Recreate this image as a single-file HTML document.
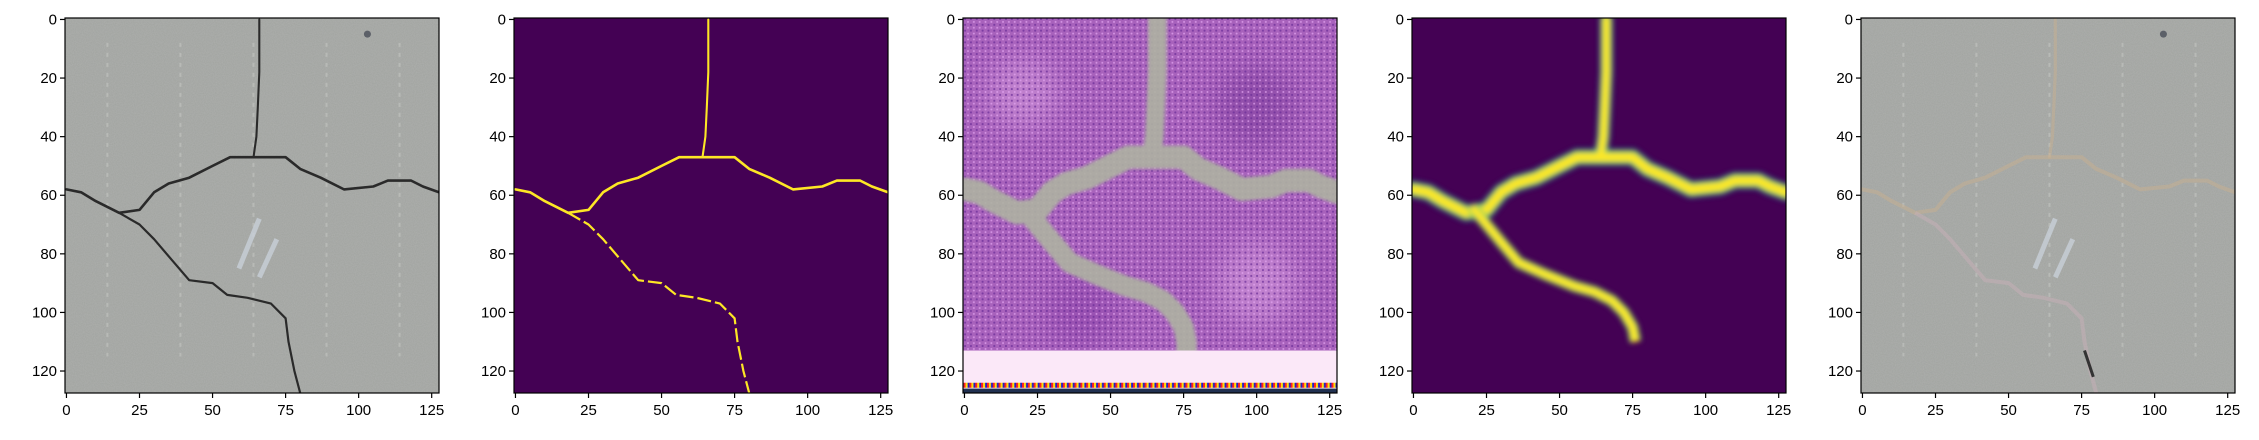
<!DOCTYPE html>
<html><head><meta charset="utf-8">
<style>
html,body{margin:0;padding:0;background:#fff;}
svg{display:block;font-family:"Liberation Sans","DejaVu Sans",sans-serif;}
</style></head>
<body>
<svg id="fig" width="2259" height="440" viewBox="0 0 2259 440" xmlns="http://www.w3.org/2000/svg">
<defs>
  <filter id="blur4" x="-10%" y="-10%" width="120%" height="120%"><feGaussianBlur stdDeviation="2.6"/></filter>
  <filter id="blur1"><feGaussianBlur stdDeviation="1.5"/></filter>
  <filter id="blurBig" x="-20%" y="-20%" width="140%" height="140%"><feGaussianBlur stdDeviation="14"/></filter>
  <filter id="noise" x="0" y="0" width="100%" height="100%">
    <feTurbulence type="fractalNoise" baseFrequency="0.9" numOctaves="2" seed="3"/>
    <feColorMatrix type="matrix" values="0 0 0 0 0.5  0 0 0 0 0.5  0 0 0 0 0.5  0 0 0 0.5 0"/>
  </filter>
  <pattern id="dots" width="5.84" height="5.84" patternUnits="userSpaceOnUse">
    <circle cx="1.5" cy="1.5" r="1.1" fill="#6a2c98" opacity="0.7"/>
    <circle cx="4.4" cy="4.4" r="1" fill="#e8a8f4" opacity="0.7"/>
  </pattern>
  <pattern id="stripes" width="5.84" height="6" patternUnits="userSpaceOnUse">
    <rect x="0" y="0" width="2" height="6" fill="#ff2020"/>
    <rect x="2" y="0" width="2" height="6" fill="#ffe000"/>
    <rect x="4" y="0" width="1.84" height="6" fill="#2020c0"/>
  </pattern>
</defs>
<g id="panels"></g>
</svg>
<script>
// ---- data (image coordinates, pixel units of the 128x128 images) ----
const imgSize = 128;
const xTicks = [0, 25, 50, 75, 100, 125];
const yTicks = [0, 20, 40, 60, 80, 100, 120];
const mainCrackX = [0, 5, 10, 18, 25, 30, 35, 42, 50, 56, 65, 75, 80, 87, 95, 105, 110, 118, 122, 127.5];
const mainCrackY = [58, 59, 62, 66, 65, 59, 56, 54, 50, 47, 47, 47, 51, 54, 58, 57, 55, 55, 57, 59];
const vertCrackX = [66, 66, 65.5, 65, 64];
const vertCrackY = [0, 18, 30, 40, 47];
const branchCrackX = [18, 25, 30, 36, 42, 50, 55, 62, 70, 75, 76, 78, 80];
const branchCrackY = [66, 70, 75, 82, 89, 90, 94, 95, 97, 102, 110, 120, 127.5];
const predBranchX = [20, 25, 30, 36, 45, 55, 62, 68, 72, 75, 76];
const predBranchY = [64, 70, 76, 83, 87, 91, 93, 96, 100, 105, 110];
const panelLefts = [65, 514, 963, 1412, 1861];

// ---- layout ----
const plotTop = 18, W = 374, H = 375;
const svgNS = "http://www.w3.org/2000/svg";
const root = document.getElementById('panels');
function el(tag, attrs, parent){const e=document.createElementNS(svgNS,tag);for(const k in attrs)e.setAttribute(k,attrs[k]);(parent||root).appendChild(e);return e;}
function sx(x0,v){return x0 + (v+0.5)*W/imgSize;}
function sy(v){return plotTop + (v+0.5)*H/imgSize;}
function pts(x0,xs,ys){return xs.map((v,i)=>sx(x0,v).toFixed(1)+','+sy(ys[i]).toFixed(1)).join(' ');}
const u = W/imgSize;

function crack(g,x0,color,width,extra){
  const a = el('polyline',Object.assign({points:pts(x0,mainCrackX,mainCrackY),fill:'none',stroke:color,'stroke-width':width,'stroke-linejoin':'round','stroke-linecap':'round'},extra||{}),g);
  
  
  const b = el('polyline',Object.assign({points:pts(x0,vertCrackX,vertCrackY),fill:'none',stroke:color,'stroke-width':width*0.8,'stroke-linecap':'round'},extra||{}),g);
  
  
}

panelLefts.forEach((x0,pi)=>{
  const g = el('g',{});
  
  
  const clipId='clip'+pi;
  const cp=el('clipPath',{id:clipId},g); el('rect',{x:x0,y:plotTop,width:W,height:H},cp);
  const img = el('g',{'clip-path':'url(#'+clipId+')'},g);
  
  
  if(pi===0||pi===4){
    el('rect',{x:x0,y:plotTop,width:W,height:H,fill:'#a0a39f'},img);
    el('rect',{x:x0,y:plotTop,width:W,height:H,filter:'url(#noise)'},img);
    [14,39,64,89,114].forEach(c=>el('line',{x1:sx(x0,c),y1:sy(8),x2:sx(x0,c),y2:sy(115),stroke:'#c4c6c2','stroke-width':2,'stroke-dasharray':'4 6',opacity:0.6},img));
    el('polyline',{points:pts(x0,[59,66],[85,68]),stroke:'#c8d0d8','stroke-width':5,fill:'none',opacity:0.8},img);
    el('polyline',{points:pts(x0,[66,72],[88,75]),stroke:'#c8d0d8','stroke-width':5,fill:'none',opacity:0.8},img);
    el('circle',{cx:sx(x0,103),cy:sy(5),r:3.5,fill:'#5c6068'},img);
    if(pi===0){
      crack(img,x0,'#2a2a2a',2.6);
      const b=el('polyline',{points:pts(x0,branchCrackX,branchCrackY),fill:'none',stroke:'#2a2a2a','stroke-width':2.2,'stroke-linejoin':'round'},img);
      
      
    } else {
      crack(img,x0,'#c8b090',4,{opacity:0.5});
      const b=el('polyline',{points:pts(x0,branchCrackX,branchCrackY),fill:'none',stroke:'#c8b0b8','stroke-width':4,opacity:0.5},img);
      
      
      el('polyline',{points:pts(x0,[76,79],[113,122]),stroke:'#333','stroke-width':3,fill:'none'},img);
    }
  } else if(pi===1){
    el('rect',{x:x0,y:plotTop,width:W,height:H,fill:'#440154'},img);
    crack(img,x0,'#fde725',2.6);
    const b=el('polyline',{points:pts(x0,branchCrackX,branchCrackY),fill:'none',stroke:'#fde725','stroke-width':2.2,'stroke-dasharray':'14 4','stroke-linejoin':'round'},img);
    
    
  } else if(pi===2){
    el('rect',{x:x0,y:plotTop,width:W,height:H,fill:'#a862bc'},img);
    const mott=el('g',{filter:'url(#blurBig)',opacity:0.5},img);
    el('circle',{cx:sx(x0,20),cy:sy(25),r:35,fill:'#d8a0e0'},mott);
    el('circle',{cx:sx(x0,100),cy:sy(30),r:40,fill:'#7a3a9a'},mott);
    el('circle',{cx:sx(x0,40),cy:sy(100),r:35,fill:'#8a40a8'},mott);
    el('circle',{cx:sx(x0,100),cy:sy(90),r:40,fill:'#d8a0e0'},mott);
    el('rect',{x:x0,y:plotTop,width:W,height:H,fill:'url(#dots)'},img);
    const gg=el('g',{filter:'url(#blur1)',opacity:0.9},img);
    crack(gg,x0,'#aeb2a2',8*u);
    const b=el('polyline',{points:pts(x0,predBranchX.concat([76,77]),predBranchY.concat([115,118])),fill:'none',stroke:'#aeb2a2','stroke-width':7*u,'stroke-linejoin':'round'},gg);
    
    
    el('rect',{x:x0,y:sy(113),width:W,height:sy(127.5)-sy(113),fill:'#fbe8f8'},img);
    el('rect',{x:x0,y:sy(124),width:W,height:5,fill:'url(#stripes)'},img);
    el('rect',{x:x0,y:sy(126),width:W,height:sy(127.5)-sy(126),fill:'#203050'},img);
  } else {
    el('rect',{x:x0,y:plotTop,width:W,height:H,fill:'#440154'},img);
    const gg=el('g',{filter:'url(#blur4)'},img);
    crack(gg,x0,'#21918c',6*u,{opacity:0.7});
    crack(gg,x0,'#5ec962',4.5*u);
    crack(gg,x0,'#fde725',3*u);
    const b1=el('polyline',{points:pts(x0,predBranchX,predBranchY),fill:'none',stroke:'#5ec962','stroke-width':4*u,'stroke-linejoin':'round'},gg);
    
    
    const b=el('polyline',{points:pts(x0,predBranchX,predBranchY),fill:'none',stroke:'#fde725','stroke-width':2.5*u,'stroke-linejoin':'round'},gg);
    
    
  }
  const fr=el('rect',{x:x0,y:plotTop,width:W,height:H,fill:'none',stroke:'#000','stroke-width':1.2},g);
  
  
  xTicks.forEach(t=>{
    const x=sx(x0,t);
    el('line',{x1:x,y1:plotTop+H,x2:x,y2:plotTop+H+5,stroke:'#000','stroke-width':1.2},g);
    const tx=el('text',{x:x,y:plotTop+H+22,'text-anchor':'middle','font-size':15,fill:'#000'},g);
    tx.textContent=t;
    
    
  });
  yTicks.forEach(t=>{
    const y=sy(t);
    el('line',{x1:x0-5,y1:y,x2:x0,y2:y,stroke:'#000','stroke-width':1.2},g);
    const tx=el('text',{x:x0-8,y:y+5,'text-anchor':'end','font-size':15,fill:'#000'},g);
    tx.textContent=t;
    
    
  });
});
</script>
</body></html>
